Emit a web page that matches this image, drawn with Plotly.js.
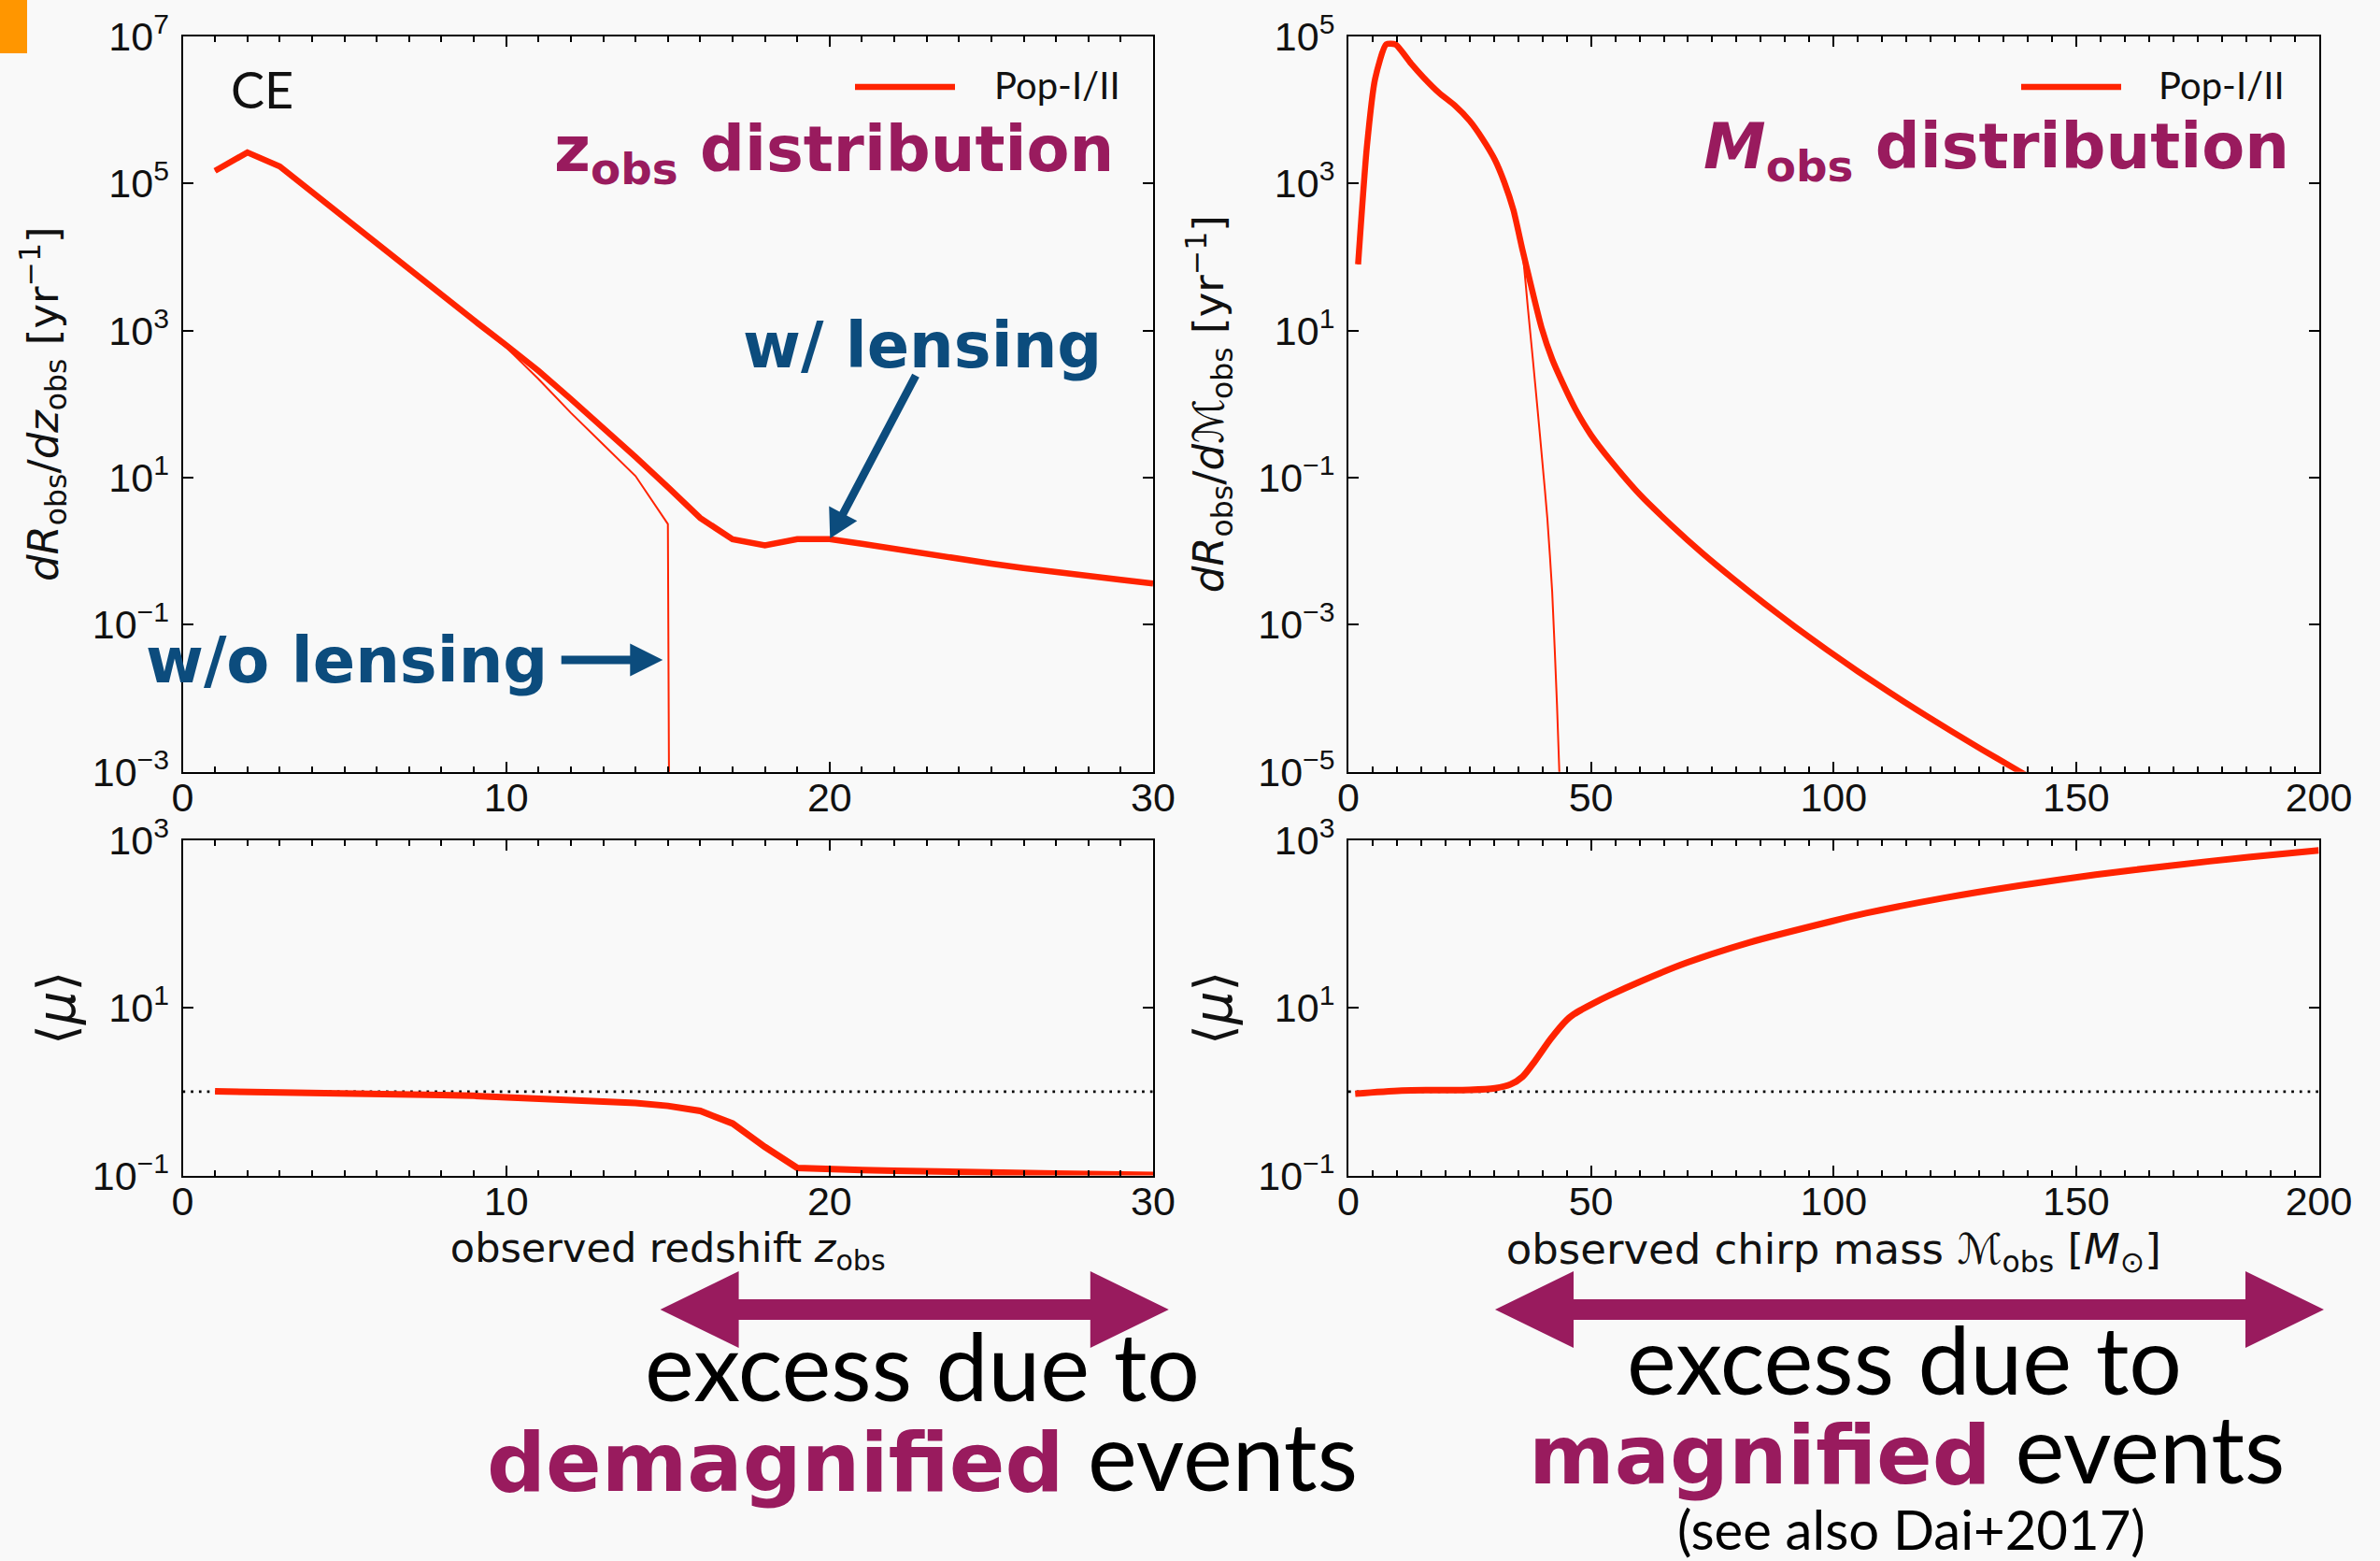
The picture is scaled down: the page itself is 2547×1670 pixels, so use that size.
<!DOCTYPE html>
<html>
<head>
<meta charset="utf-8">
<script src="https://cdn.plot.ly/plotly-3.0.1.min.js"></script>
<style>
  html, body { margin: 0; padding: 0; background: #f9f9f9; }
  #chart { width: 2547px; height: 1670px; }
</style>
</head>
<body>
<div id="chart"></div>
<script>
// ---------------- data ----------------
// Observed redshift grid (CE, Pop-I/II)
const zObs = [1, 2, 3, 4, 5, 6, 7, 8, 9, 10, 11, 12, 13, 14, 15, 16, 17, 18, 19, 20,
              21, 22, 23, 24, 25, 26, 27, 28, 29, 30];
// dR_obs/dz_obs [yr^-1] with lensing
const dRdzLensed = [1.48e5, 2.63e5, 1.70e5, 7.59e4, 3.39e4, 1.48e4, 6.61e3, 3.02e3, 1.38e3, 631,
                    282, 117, 47.9, 19.1, 7.41, 2.82, 1.45, 1.20, 1.46, 1.46,
                    1.26, 1.07, 0.912, 0.794, 0.676, 0.589, 0.513, 0.457, 0.407, 0.363];
// dR_obs/dz_obs [yr^-1] without lensing (no sources beyond z = 15)
const zObsUnlensed = [1, 2, 3, 4, 5, 6, 7, 8, 9, 10, 11, 12, 13, 14, 15, 16];
const dRdzUnlensed = [1.48e5, 2.63e5, 1.70e5, 7.59e4, 3.39e4, 1.48e4, 6.61e3, 3.02e3, 1.35e3, 589,
                      219, 75.9, 28.2, 10.5, 2.34, 1e-100];
// mean magnification vs redshift
const muZ = [1.01, 1.0, 0.989, 0.977, 0.966, 0.955, 0.933, 0.912, 0.891, 0.861,
             0.832, 0.804, 0.776, 0.733, 0.676, 0.589, 0.417, 0.219, 0.123, 0.1175,
             0.116, 0.1135, 0.111, 0.1096, 0.1076, 0.1064, 0.1052, 0.104, 0.1028, 0.1016];

// Observed chirp mass grid [Msun]
const mObs = [2.0, 3.8, 5.5, 7.8, 9.7, 12.9, 15.5, 18.7, 21.9, 25.0, 27.6, 30.2, 32.1, 34.0, 35.9,
              37.9, 39.8, 42.0, 44.2, 46.8, 50.0, 53.8, 60.2, 66.6, 73.0, 79.4, 85.8, 92.2, 98.6,
              105.0, 111.4, 117.8, 124.2, 130.6, 137.0, 140.0];
// dR_obs/dM_obs [yr^-1] with lensing
const dRdMLensed = [79.4, 3090, 2.63e4, 7.76e4, 7.76e4, 4.27e4, 2.75e4, 1.70e4, 1.15e4, 7080, 4070,
                    2090, 1050, 437, 123, 34.7, 11.0, 4.07, 1.91, 0.851, 0.380, 0.178, 0.0575,
                    0.0224, 9.33e-3, 4.17e-3, 1.93e-3, 9.23e-4, 4.57e-4, 2.32e-4, 1.22e-4, 6.53e-5,
                    3.59e-5, 2.0e-5, 1.14e-5, 8.71e-6];
// dR_obs/dM_obs [yr^-1] without lensing
const mObsUnlensed = [2.0, 3.8, 5.5, 7.8, 9.7, 12.9, 15.5, 18.7, 21.9, 25.0, 27.6, 30.2, 32.1, 34.0,
                      35.9, 37, 38, 39, 40, 41, 42, 43, 44];
const dRdMUnlensed = [79.4, 3090, 2.63e4, 7.76e4, 7.76e4, 4.27e4, 2.75e4, 1.70e4, 1.15e4, 7080, 4070,
                      2090, 1050, 437, 112, 20.0, 4.17, 0.832, 0.158, 0.0282, 2.82e-3, 7.94e-5, 1e-6];
// mean magnification vs chirp mass
const mObsMu = [1.4, 11.0, 25.0, 30.2, 33.4, 35.9, 38.5, 41.7, 44.9, 46.5, 48.1, 50.7, 53.8, 60.2,
                69.8, 82.6, 99.3, 106.7, 122.5, 138.2, 154.0, 169.7, 185.5, 200.0];
const muM = [0.944, 1.03, 1.05, 1.10, 1.22, 1.51, 2.34, 4.27, 7.08, 8.41, 9.55, 11.5, 14.1, 20.7,
             34.7, 60.3, 107, 135, 204, 288, 389, 501, 631, 759];

// no-magnification reference level
const zSpan = [0, 30];
const mSpan = [0, 200];
const muUnity = [1, 1];

// tick labels
const yTicksRateZ = [1e-3, 1e-1, 1e1, 1e3, 1e5, 1e7];
const yTextRateZ = ['10<sup>−3</sup>', '10<sup>−1</sup>', '10<sup>1</sup>', '10<sup>3</sup>', '10<sup>5</sup>', '10<sup>7</sup>'];
const yTicksRateM = [1e-5, 1e-3, 1e-1, 1e1, 1e3, 1e5];
const yTextRateM = ['10<sup>−5</sup>', '10<sup>−3</sup>', '10<sup>−1</sup>', '10<sup>1</sup>', '10<sup>3</sup>', '10<sup>5</sup>'];
const yTicksMu = [1e-1, 1e1, 1e3];
const yTextMu = ['10<sup>−1</sup>', '10<sup>1</sup>', '10<sup>3</sup>'];

// ---------------- styling ----------------
const W = 2547, H = 1670;
const BG = '#f9f9f9';
const RED = '#ff2300';
const PURPLE = '#991b5e';
const BLUE = '#0c4c7d';
const ORANGE = '#ff9600';
const INK = '#111111';

const TICK_FONT = {family: 'Liberation Sans, Arial, sans-serif', size: 43, color: INK};
const TITLE_FONT = {family: 'DejaVu Sans, sans-serif', size: 43, color: INK};
const TITLE_FONT_M = {family: 'DejaVu Sans, sans-serif', size: 45, color: INK};
const YTITLE_FONT = {family: 'DejaVu Sans, sans-serif', size: 45, color: INK};
const MU_FONT = {family: 'DejaVu Sans, sans-serif', size: 56, color: INK};
const GILL = 'Lato, sans-serif';
const HEAVY = 'DejaVu Sans, sans-serif';

// pixel -> paper helpers
const px = v => v / W;
const py = v => 1 - v / H;

const colLeft = [px(195.5), px(1234)];
const colRight = [px(1443), px(2481.5)];
const rowTop = [py(825.7), py(38.8)];
const rowBottom = [py(1257.5), py(899)];

function xAxis(dom, anchor, range, dtick, minorStep, title, titleFont) {
  const ax = {
    domain: dom, anchor: anchor, range: range,
    tickmode: 'linear', tick0: 0, dtick: dtick,
    ticks: 'inside', ticklen: 11, tickwidth: 2, tickcolor: '#000',
    minor: {tick0: 0, dtick: minorStep, ticks: 'inside', ticklen: 6, tickwidth: 2,
            tickcolor: '#000', showgrid: false},
    showline: true, linecolor: '#000', linewidth: 2, mirror: 'ticks',
    showgrid: false, zeroline: false,
    tickfont: TICK_FONT, ticklabelstandoff: -11
  };
  if (title) ax.title = {text: title, font: titleFont || TITLE_FONT, standoff: 12};
  return ax;
}

function yAxis(dom, anchor, logRange, vals, text, title, font, standoff) {
  return {
    domain: dom, anchor: anchor, type: 'log', range: logRange,
    tickmode: 'array', tickvals: vals, ticktext: text,
    ticks: 'inside', ticklen: 11, tickwidth: 2, tickcolor: '#000',
    showline: true, linecolor: '#000', linewidth: 2, mirror: 'ticks',
    showgrid: false, zeroline: false,
    tickfont: TICK_FONT, ticklabelstandoff: 4,
    title: {text: title, font: font, standoff: standoff}
  };
}

// ---------------- traces ----------------
const traces = [
  {x: zObsUnlensed, y: dRdzUnlensed, xaxis: 'x', yaxis: 'y', type: 'scatter', mode: 'lines',
   line: {color: RED, width: 2}, hoverinfo: 'skip'},
  {x: zObs, y: dRdzLensed, xaxis: 'x', yaxis: 'y', type: 'scatter', mode: 'lines',
   line: {color: RED, width: 6.5}, name: 'Pop-I/II', hoverinfo: 'skip'},

  {x: mObsUnlensed, y: dRdMUnlensed, xaxis: 'x2', yaxis: 'y2', type: 'scatter', mode: 'lines',
   line: {color: RED, width: 2, shape: 'spline', smoothing: 0.5}, hoverinfo: 'skip'},
  {x: mObs, y: dRdMLensed, xaxis: 'x2', yaxis: 'y2', type: 'scatter', mode: 'lines',
   line: {color: RED, width: 6.5, shape: 'spline', smoothing: 0.6}, name: 'Pop-I/II', hoverinfo: 'skip'},

  {x: zSpan, y: muUnity, xaxis: 'x3', yaxis: 'y3', type: 'scatter', mode: 'lines',
   line: {color: '#000', width: 2.7, dash: '2.7px,6px'}, hoverinfo: 'skip'},
  {x: zObs, y: muZ, xaxis: 'x3', yaxis: 'y3', type: 'scatter', mode: 'lines',
   line: {color: RED, width: 7}, hoverinfo: 'skip'},

  {x: mSpan, y: muUnity, xaxis: 'x4', yaxis: 'y4', type: 'scatter', mode: 'lines',
   line: {color: '#000', width: 2.7, dash: '2.7px,6px'}, hoverinfo: 'skip'},
  {x: mObsMu, y: muM, xaxis: 'x4', yaxis: 'y4', type: 'scatter', mode: 'lines',
   line: {color: RED, width: 7, shape: 'spline', smoothing: 0.8}, hoverinfo: 'skip'}
];

// ---------------- decorations ----------------
// block arrow polygon (pixel coordinates -> paper path)
function arrowPath(x0, y0, x1, y1, shaftHalf, headLen, headHalf, doubleHead) {
  const L = Math.hypot(x1 - x0, y1 - y0);
  const ux = (x1 - x0) / L, uy = (y1 - y0) / L;
  const nx = -uy, ny = ux;
  const off = (p, a, b) => [p[0] + ux * a + nx * b, p[1] + uy * a + ny * b];
  const P0 = [x0, y0], P1 = [x1, y1];
  const B = off(P1, -headLen, 0);
  let pts;
  if (doubleHead) {
    const A = off(P0, headLen, 0);
    pts = [P0, off(A, 0, headHalf), off(A, 0, shaftHalf), off(B, 0, shaftHalf), off(B, 0, headHalf),
           P1, off(B, 0, -headHalf), off(B, 0, -shaftHalf), off(A, 0, -shaftHalf), off(A, 0, -headHalf)];
  } else {
    pts = [off(P0, 0, shaftHalf), off(B, 0, shaftHalf), off(B, 0, headHalf), P1,
           off(B, 0, -headHalf), off(B, 0, -shaftHalf), off(P0, 0, -shaftHalf)];
  }
  return 'M' + pts.map(p => px(p[0]).toFixed(5) + ',' + py(p[1]).toFixed(5)).join('L') + 'Z';
}

function pathShape(path, color) {
  return {type: 'path', xref: 'paper', yref: 'paper', path: path,
          fillcolor: color, line: {width: 0}, layer: 'above'};
}

const shapes = [
  // corner marker
  {type: 'rect', xref: 'paper', yref: 'paper', x0: 0, x1: px(29), y0: py(57), y1: 1,
   fillcolor: ORANGE, line: {width: 0}},
  // legend keys
  {type: 'line', xref: 'paper', yref: 'paper', x0: px(915), x1: px(1022), y0: py(93), y1: py(93),
   line: {color: RED, width: 6.5}},
  {type: 'line', xref: 'paper', yref: 'paper', x0: px(2163), x1: px(2270), y0: py(93), y1: py(93),
   line: {color: RED, width: 6.5}},
  // pointers
  pathShape(arrowPath(600.7, 706, 709.3, 706, 4.5, 35, 17.5, false), BLUE),
  pathShape(arrowPath(980, 401.7, 888.3, 576, 4.3, 30, 17, false), BLUE),
  // excess ranges
  pathShape(arrowPath(706.6, 1401, 1250.8, 1401, 11, 84, 41, true), PURPLE),
  pathShape(arrowPath(1600, 1401, 2487, 1401, 11, 84, 41, true), PURPLE)
];

function note(text, x, y, xanchor, font) {
  return {text: text, xref: 'paper', yref: 'paper', x: px(x), y: py(y),
          xanchor: xanchor, yanchor: 'middle', showarrow: false, font: font, borderpad: 0};
}

const annotations = [
  note('CE', 246, 96, 'left', {family: GILL, size: 54, color: INK}),
  note('Pop-I/II', 1063, 91, 'left', {family: GILL, size: 40, color: INK}),
  note('Pop-I/II', 2309, 91, 'left', {family: GILL, size: 40, color: INK}),
  note('<b>z<sub>obs</sub> distribution</b>', 1193, 164, 'right',
       {family: HEAVY, size: 67, color: PURPLE}),
  note('<b><i>M</i><sub>obs</sub> distribution</b>', 2451, 161, 'right',
       {family: HEAVY, size: 67, color: PURPLE}),
  note('<b>w/ lensing</b>', 794, 370, 'left', {family: HEAVY, size: 67, color: BLUE}),
  note('<b>w/o lensing</b>', 155, 707, 'left', {family: HEAVY, size: 67, color: BLUE}),
  note('excess due to', 987, 1460, 'center', {family: GILL, size: 100, color: '#000'}),
  note('<span style="font-family:DejaVu Sans;font-weight:bold;color:' + PURPLE + ';font-size:88px">demagnified</span> events',
       987, 1556, 'center', {family: GILL, size: 100, color: '#000'}),
  note('excess due to', 2038, 1453, 'center', {family: GILL, size: 100, color: '#000'}),
  note('<span style="font-family:DejaVu Sans;font-weight:bold;color:' + PURPLE + ';font-size:88px">magnified</span> events',
       2040, 1548, 'center', {family: GILL, size: 100, color: '#000'}),
  note('(see also Dai+2017)', 2045, 1635, 'center', {family: GILL, size: 58, color: '#000'})
];

const layout = {
  width: W, height: H,
  margin: {l: 0, r: 0, t: 0, b: 0, pad: 0},
  paper_bgcolor: BG, plot_bgcolor: BG,
  showlegend: false,
  font: {family: 'Liberation Sans, sans-serif', color: INK},
  xaxis: xAxis(colLeft, 'y', [0, 30], 10, 1),
  yaxis: yAxis(rowTop, 'x', [-3, 7], yTicksRateZ, yTextRateZ,
               '<i>dR</i><sub>obs</sub>/<i>dz</i><sub>obs</sub> [yr<sup>−1</sup>]', YTITLE_FONT, 22),
  xaxis2: xAxis(colRight, 'y2', [0, 200], 50, 5),
  yaxis2: yAxis(rowTop, 'x2', [-5, 5], yTicksRateM, yTextRateM,
                '<i>dR</i><sub>obs</sub>/<i>d</i>ℳ<sub>obs</sub> [yr<sup>−1</sup>]', YTITLE_FONT, 22),
  xaxis3: xAxis(colLeft, 'y3', [0, 30], 10, 1, 'observed redshift <i>z</i><sub>obs</sub>'),
  yaxis3: yAxis(rowBottom, 'x3', [-1, 3], yTicksMu, yTextMu, '⟨<i>μ</i>⟩', MU_FONT, 0),
  xaxis4: xAxis(colRight, 'y4', [0, 200], 50, 5,
                'observed chirp mass ℳ<sub>obs</sub> [<i>M</i><sub>⊙</sub>]', TITLE_FONT_M),
  yaxis4: yAxis(rowBottom, 'x4', [-1, 3], yTicksMu, yTextMu, '⟨<i>μ</i>⟩', MU_FONT, 10),
  shapes: shapes,
  annotations: annotations
};

Plotly.newPlot('chart', traces, layout, {staticPlot: true, displayModeBar: false});
</script>
</body>
</html>
